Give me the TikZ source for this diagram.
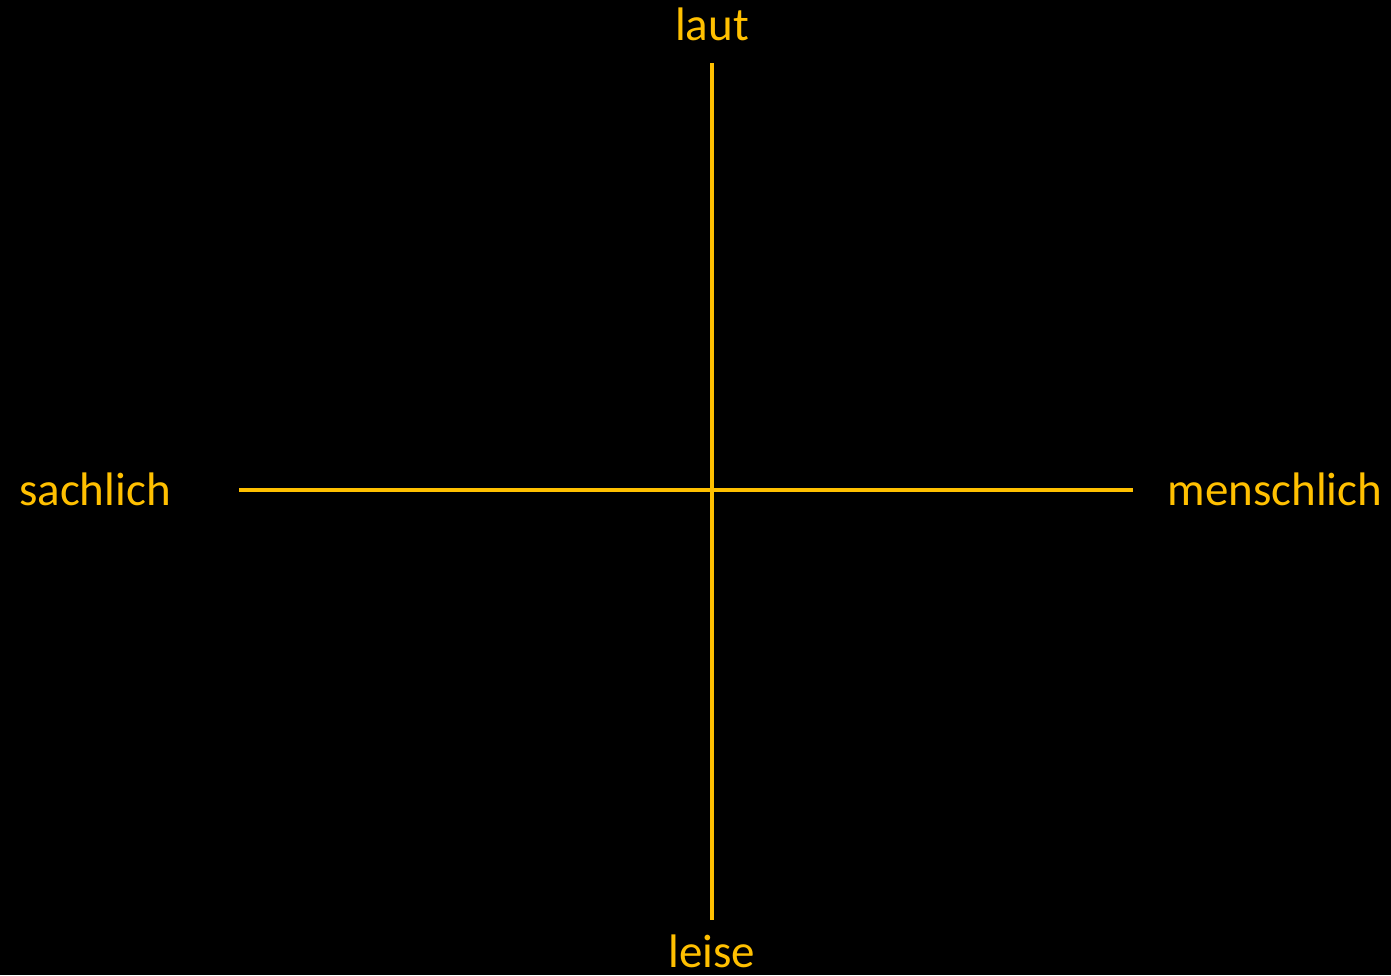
\documentclass[tikz,border=0pt]{standalone}
\usepackage{fontspec}
\setmainfont{Carlito}
\definecolor{gold}{HTML}{FFC000}
\begin{document}
\begin{tikzpicture}[x=1pt,y=-1pt,
  axis/.style={draw=gold,line width=3.5pt},
  lbl/.style={text=gold,font=\fontsize{47}{56}\selectfont,anchor=base,inner sep=0pt}]
\fill[black] (0,0) rectangle (1391,975);
\useasboundingbox (0,0) rectangle (1391,975);
\coordinate (top) at (712,63);
\coordinate (bot) at (712,920);
\coordinate (lft) at (239,490);
\coordinate (rgt) at (1133,490);
\draw[axis] (top) -- (bot);
\draw[axis] (lft) -- (rgt);
\node[lbl] (laut) at (712,40) {laut};
\node[lbl] (leise) at (712,967) {leise};
\node[lbl] (sachlich) at (95,505) {sachlich};
\node[lbl] (menschlich) at (1275,505) {menschlich};
\end{tikzpicture}
\end{document}
